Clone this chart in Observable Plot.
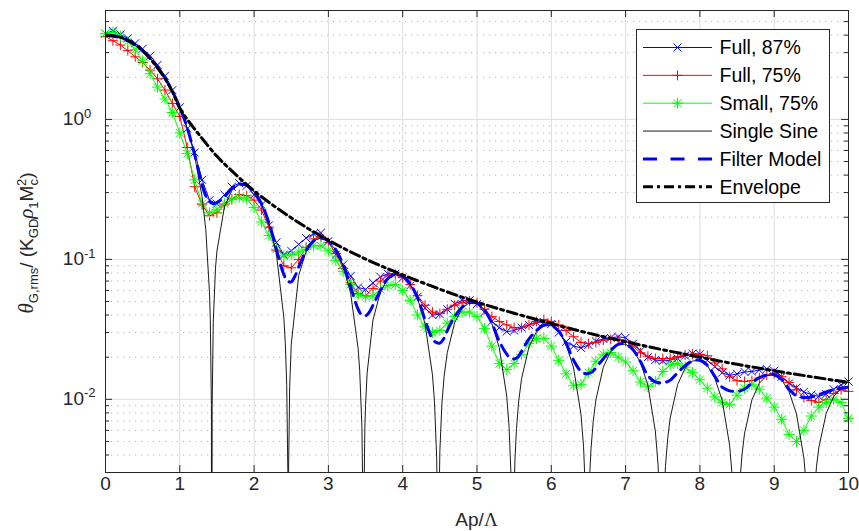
<!DOCTYPE html>
<html><head><meta charset="utf-8">
<script src="https://cdn.jsdelivr.net/npm/d3@7"></script>
<script src="https://cdn.jsdelivr.net/npm/@observablehq/plot@0.6"></script>
<style>
html,body{margin:0;padding:0;background:#fff;}
#chart{position:relative;width:859px;height:531px;}
</style></head><body><div id="chart"></div>
<script>
// ---------- data ----------
const sampleX = [0,0.1,0.2,0.3,0.4,0.5,0.6,0.7,0.8,0.9,
 1,1.1,1.2,1.3,1.4,1.5,1.6,1.7,1.8,1.9,
 2,2.1,2.2,2.3,2.4,2.5,2.6,2.7,2.8,2.9,
 3,3.1,3.2,3.3,3.4,3.5,3.6,3.7,3.8,3.9,
 4,4.1,4.2,4.3,4.4,4.5,4.6,4.7,4.8,4.9,
 5,5.1,5.2,5.3,5.4,5.5,5.6,5.7,5.8,5.9,
 6,6.1,6.2,6.3,6.4,6.5,6.6,6.7,6.8,6.9,
 7,7.1,7.2,7.3,7.4,7.5,7.6,7.7,7.8,7.9,
 8,8.1,8.2,8.3,8.4,8.5,8.6,8.7,8.8,8.9,
 9,9.1,9.2,9.3,9.4,9.5,9.6,9.7,9.8,9.9,10];

const full87 = [4.1,4.3,4.05,3.8,3.5,3.2,2.85,2.45,2.05,1.62,
 1.22,0.86,0.58,0.37,0.265,0.25,0.29,0.33,0.35,0.335,
 0.29,0.245,0.175,0.132,0.108,0.115,0.128,0.142,0.152,0.155,
 0.135,0.108,0.092,0.076,0.063,0.061,0.068,0.075,0.079,0.079,
 0.074,0.065,0.054,0.045,0.040,0.0405,0.044,0.048,0.051,0.051,
 0.048,0.042,0.036,0.0325,0.0305,0.031,0.0325,0.034,0.0355,0.0355,
 0.0345,0.030,0.0258,0.024,0.0233,0.0245,0.026,0.027,0.0275,0.028,
 0.0275,0.025,0.0222,0.020,0.0191,0.0188,0.019,0.0196,0.0205,0.0212,
 0.021,0.019,0.0171,0.0155,0.0148,0.0152,0.0157,0.0158,0.0162,0.0165,
 0.016,0.0145,0.013,0.0121,0.0113,0.0108,0.0105,0.0109,0.0118,0.0127,
 0.0134];

const full75 = [3.9,3.65,3.4,3.1,2.8,2.55,2.25,1.95,1.62,1.3,
 1.05,0.63,0.33,0.245,0.205,0.215,0.245,0.27,0.29,0.285,
 0.265,0.225,0.17,0.115,0.09,0.087,0.1,0.122,0.14,0.145,
 0.132,0.11,0.086,0.068,0.057,0.055,0.062,0.07,0.077,0.078,
 0.074,0.066,0.055,0.047,0.042,0.041,0.044,0.047,0.049,0.0505,
 0.049,0.044,0.039,0.036,0.034,0.0325,0.0325,0.034,0.036,0.037,
 0.036,0.034,0.031,0.028,0.0255,0.025,0.0255,0.0265,0.0268,0.0266,
 0.026,0.024,0.0215,0.0203,0.0196,0.0195,0.0196,0.0202,0.0207,0.021,
 0.021,0.0205,0.0182,0.0165,0.0145,0.0136,0.0134,0.0136,0.0142,0.0149,
 0.0153,0.0145,0.0132,0.0117,0.0103,0.0098,0.0095,0.0100,0.0110,0.0117,
 0.0114];

const small75 = [4.1,4.2,3.95,3.6,3.15,2.62,2.12,1.70,1.40,1.12,
 0.80,0.57,0.37,0.25,0.215,0.228,0.25,0.268,0.278,0.27,
 0.235,0.185,0.148,0.118,0.106,0.108,0.113,0.118,0.125,0.125,
 0.115,0.098,0.082,0.066,0.056,0.054,0.055,0.061,0.065,0.066,
 0.06,0.051,0.04,0.033,0.030,0.031,0.035,0.039,0.042,0.042,
 0.039,0.032,0.024,0.018,0.0163,0.018,0.021,0.025,0.0272,0.0272,
 0.024,0.019,0.0152,0.0125,0.0128,0.0155,0.0187,0.021,0.0216,0.020,
 0.0185,0.016,0.0133,0.0123,0.0134,0.0158,0.0176,0.018,0.0170,0.0155,
 0.0138,0.012,0.0104,0.0095,0.0092,0.0107,0.012,0.0127,0.0118,0.0102,
 0.0088,0.0072,0.0056,0.0050,0.0060,0.0076,0.0088,0.0095,0.0100,0.0095,
 0.0073];

const sineX = [0,0.1,0.2,0.3,0.4,0.5,0.6,0.7,0.8,0.9,1.0,1.1,1.2,1.3,1.35,1.4,
 1.4103,1.4253,1.4303,1.4353,1.4503,1.4803,1.5,1.6,1.7,1.8,1.9,2.0,2.1,2.2,2.3,2.4,
 2.42,2.439,2.454,2.459,2.464,2.479,2.5,2.6,2.7,2.8,2.9,3.0,3.1,3.2,3.3,3.4,
 3.4209,3.4509,3.4659,3.4709,3.4759,3.4909,3.5,3.5209,3.6,3.7,3.8,3.9,4.0,4.1,4.2,4.3,4.4,
 4.4274,4.4574,4.4724,4.4774,4.4824,4.5,4.5274,4.5574,4.6,4.7,4.8,4.9,5.0,5.1,5.2,5.3,5.4,
 5.4315,5.4615,5.4765,5.4815,5.4865,5.5,5.5115,5.5315,5.5615,5.6,5.7,5.8,5.9,6.0,6.1,6.2,6.3,6.4,
 6.4344,6.4644,6.4794,6.4844,6.4894,6.5,6.5144,6.5344,6.5644,6.6,6.7,6.8,6.9,7.0,7.1,7.2,7.3,7.4,
 7.4365,7.4665,7.4815,7.4865,7.4915,7.5,7.5165,7.5365,7.5665,7.6,7.7,7.8,7.9,8.0,8.1,8.2,8.3,8.4,
 8.438,8.468,8.483,8.488,8.493,8.5,8.518,8.538,8.568,8.6,8.7,8.8,8.9,9.0,9.1,9.2,9.3,9.4,
 9.4393,9.4693,9.4843,9.4893,9.4943,9.5,9.5193,9.5393,9.5693,9.6,9.7,9.8,9.9,10.0];
const sineY = [4.0,3.961,3.844,3.656,3.403,3.096,2.748,2.371,1.981,1.592,1.216,0.8658,0.5514,0.2804,0.1627,0.05756,
 0.0374,0.0092,0.000001,0.0090,0.0354,0.0866,0.1147,0.2366,0.3110,0.3426,0.3378,0.3040,0.2493,0.1819,0.1094,0.0386,
 0.0252,0.0127,0.0031,0.000001,0.0031,0.01234,0.02477,0.07652,0.1139,0.1358,0.1424,0.1351,0.1163,0.0891,0.0569,0.02314,
 0.01615,0.00638,0.00158,0.000001,0.00158,0.00626,0.009027,0.01531,0.03688,0.05838,0.07227,0.07804,0.07599,0.06705,0.05269,0.03471,0.01509,
 0.00967,0.00383,0.00095,0.000001,0.00095,0.004247,0.00927,0.0146,0.02154,0.03537,0.04475,0.04918,0.04863,0.04356,0.03476,0.02334,0.01055,
 0.00642,0.00254,0.000635,0.000001,0.000635,0.002326,0.00375,0.00619,0.00975,0.01408,0.02369,0.03041,0.03380,0.03377,0.03055,0.02463,0.01675,0.00777,
 0.00458,0.001815,0.000454,0.000001,0.000454,0.001409,0.00268,0.00442,0.00697,0.009906,0.01696,0.02200,0.02465,0.02481,0.02260,0.01837,0.01261,0.005953,
 0.00343,0.00136,0.00034,0.000001,0.00034,0.000917,0.00201,0.00332,0.00523,0.007344,0.01274,0.01665,0.01877,0.01900,0.01740,0.01422,0.009827,0.004704,
 0.002665,0.00106,0.000265,0.000001,0.000265,0.00063,0.001566,0.002583,0.00407,0.005659,0.009917,0.01304,0.01477,0.01501,0.01381,0.01133,0.007874,0.003809,
 0.00213,0.000848,0.000212,0.000001,0.000212,0.000451,0.00126,0.00209,0.0033,0.004493,0.007939,0.01048,0.01192,0.01216];

const filterX = [0,0.1,0.2,0.3,0.4,0.5,0.6,0.7,0.8,0.9,1.0,1.1,1.2,1.3,1.35,1.4,1.45,1.5,1.6,1.7,1.8,1.9,
 2.0,2.1,2.2,2.3,2.35,2.4,2.45,2.5,2.55,2.6,2.7,2.8,2.9,3.0,3.1,3.2,3.3,3.35,3.4,3.45,3.5,3.55,3.6,3.7,3.8,3.9,
 4.0,4.1,4.2,4.3,4.35,4.4,4.45,4.5,4.55,4.6,4.7,4.8,4.9,5.0,5.1,5.2,5.3,5.4,5.45,5.5,5.55,5.6,5.7,5.8,5.9,
 6.0,6.1,6.2,6.3,6.4,6.45,6.5,6.55,6.6,6.7,6.8,6.9,7.0,7.1,7.2,7.3,7.4,7.5,7.6,7.7,7.8,7.9,
 8.0,8.1,8.2,8.3,8.4,8.5,8.6,8.7,8.8,8.9,9.0,9.1,9.2,9.3,9.4,9.5,9.6,9.7,9.8,9.9,10.0];
const filterY = [4.0,3.96,3.84,3.66,3.40,3.10,2.75,2.37,1.98,1.59,1.22,0.87,0.56,0.34,0.285,0.258,0.25,0.255,0.28,0.32,0.343,0.338,
 0.304,0.25,0.182,0.118,0.094,0.078,0.070,0.069,0.076,0.088,0.115,0.135,0.142,0.135,0.117,0.091,0.064,0.052,0.044,0.040,0.0395,0.042,0.047,0.060,0.073,0.078,
 0.076,0.067,0.053,0.037,0.031,0.027,0.0255,0.0252,0.027,0.031,0.039,0.0455,0.049,0.0486,0.0436,0.035,0.026,0.021,0.0197,0.0194,0.020,0.022,0.027,0.031,0.0338,
 0.0338,0.0306,0.025,0.019,0.0158,0.0153,0.0153,0.0157,0.0168,0.0195,0.0224,0.0247,0.0248,0.0226,0.0186,0.0148,0.0133,0.0131,0.0137,0.0155,0.0174,0.0188,
 0.019,0.0175,0.0146,0.0122,0.0115,0.0114,0.0118,0.0131,0.0143,0.0149,0.015,0.0139,0.0118,0.0106,0.0103,0.0104,0.0108,0.0113,0.0117,0.012,0.0122];

const envX = [0,0.2,0.4,0.6,0.8,0.9,1.0,1.1,1.25,1.5,1.75,2.0,2.5,3.0,3.5,4.0,4.5,5.0,5.5,6.0,6.5,7.0,7.5,8.0,8.5,9.0,9.5,10.0];
const envY = [4.0,3.86,3.42,2.72,1.96,1.58,1.20,1.0,0.79,0.545,0.405,0.308,0.198,0.137,0.1005,0.0775,0.0612,0.0495,0.0412,0.0348,0.0297,0.0258,0.0226,0.0200,0.0178,0.0160,0.0145,0.0132];

const xTickValues = [0,1,2,3,4,5,6,7,8,9,10];
const yDecades = [0.01, 0.1, 1];
const yDecadeExp = ["-2", "-1", "0"];
const yMinor = [0.003,0.004,0.005,0.006,0.007,0.008,0.009,0.02,0.03,0.04,0.05,0.06,0.07,0.08,0.09,0.2,0.3,0.4,0.5,0.6,0.7,0.8,0.9,2,3,4,5];
const seriesNames = ["Full, 87%", "Full, 75%", "Small, 75%", "Single Sine", "Filter Model", "Envelope"];

// ---------- layout / styles ----------
const W = 859, H = 531, ML = 105, MR = 11, MT = 10, MB = 59;
const PW = W - ML - MR, PH = H - MT - MB;
const AX = "#262626";
const FONT = "'Liberation Sans', Arial, Helvetica, sans-serif";
const SERIF = "'Liberation Serif', 'DejaVu Serif', serif";

// MATLAB-like marker symbols
const symTimes = {draw(c, s){const r=Math.sqrt(s/Math.PI)*0.75; c.moveTo(-r,-r);c.lineTo(r,r);c.moveTo(-r,r);c.lineTo(r,-r);}};
const symPlus = {draw(c, s){const r=Math.sqrt(s/Math.PI); c.moveTo(-r,0);c.lineTo(r,0);c.moveTo(0,-r);c.lineTo(0,r);}};
const symStar = {draw(c, s){const r=Math.sqrt(s/Math.PI); const d=r*0.72; c.moveTo(-r,0);c.lineTo(r,0);c.moveTo(0,-r);c.lineTo(0,r);c.moveTo(-d,-d);c.lineTo(d,d);c.moveTo(-d,d);c.lineTo(d,-d);}};

const rows = (xs, ys) => xs.map((x, i) => ({x, y: ys[i]}));
const d87 = rows(sampleX, full87), d75 = rows(sampleX, full75), dSm = rows(sampleX, small75);
const dSine = rows(sineX, sineY), dFilt = rows(filterX, filterY), dEnv = rows(envX, envY);

const styles = [
  {stroke: "#0000ff", width: 1, symbol: symTimes, r: 5.3},
  {stroke: "#ff0000", width: 1, symbol: symPlus, r: 5},
  {stroke: "#00ff00", width: 1, symbol: symStar, r: 5.5},
  {stroke: "#000000", width: 0.9},
  {stroke: "#0000ff", width: 3, dash: "12,7", legendDash: "14,13.5"},
  {stroke: "#000000", width: 3, dash: "10,4,3,4"}
];

const chart = Plot.plot({
  width: W, height: H,
  marginLeft: ML, marginRight: MR, marginTop: MT, marginBottom: MB,
  style: {background: "#fff", fontFamily: FONT, overflow: "visible"},
  x: {domain: [0, 10], axis: null},
  y: {type: "log", domain: [0.003, 6], axis: null},
  marks: [
    // grids
    Plot.ruleY(yMinor, {y: d => d, stroke: "#b4b4b4", strokeWidth: 1, strokeDasharray: "1.2,4.8"}),
    Plot.ruleX(xTickValues, {x: d => d, stroke: "#dedede", strokeWidth: 1}),
    Plot.ruleY(yDecades, {y: d => d, stroke: "#dedede", strokeWidth: 1}),
    // measured series
    Plot.line(d87, {x: "x", y: "y", stroke: styles[0].stroke, strokeWidth: 1, clip: true}),
    Plot.dot(d87, {x: "x", y: "y", symbol: styles[0].symbol, r: styles[0].r, stroke: styles[0].stroke, fill: "none", strokeWidth: 1}),
    Plot.line(d75, {x: "x", y: "y", stroke: styles[1].stroke, strokeWidth: 1, clip: true}),
    Plot.dot(d75, {x: "x", y: "y", symbol: styles[1].symbol, r: styles[1].r, stroke: styles[1].stroke, fill: "none", strokeWidth: 1}),
    Plot.line(dSm, {x: "x", y: "y", stroke: styles[2].stroke, strokeWidth: 1, clip: true}),
    Plot.dot(dSm, {x: "x", y: "y", symbol: styles[2].symbol, r: styles[2].r, stroke: styles[2].stroke, fill: "none", strokeWidth: 1}),
    // models
    Plot.line(dSine, {x: "x", y: "y", stroke: "#000", strokeWidth: 0.9, clip: true}),
    Plot.line(dFilt, {x: "x", y: "y", stroke: "#0000ff", strokeWidth: 3, strokeDasharray: styles[4].dash, clip: true, curve: "catmull-rom"}),
    Plot.line(dEnv, {x: "x", y: "y", stroke: "#000", strokeWidth: 3, strokeDasharray: styles[5].dash, clip: true, curve: "catmull-rom"}),
    // box
    Plot.frame({stroke: AX, strokeWidth: 1}),
    // ticks (inward, on all four sides)
    Plot.ruleX(xTickValues, {x: d => d, insetTop: PH - 7, stroke: AX}),
    Plot.ruleX(xTickValues, {x: d => d, insetBottom: PH - 7, stroke: AX}),
    Plot.ruleY(yDecades, {y: d => d, insetRight: PW - 7, stroke: AX}),
    Plot.ruleY(yDecades, {y: d => d, insetLeft: PW - 7, stroke: AX}),
    Plot.ruleY(yMinor, {y: d => d, insetRight: PW - 4, stroke: AX}),
    Plot.ruleY(yMinor, {y: d => d, insetLeft: PW - 4, stroke: AX}),
    // tick labels
    Plot.text(xTickValues, {x: d => d, frameAnchor: "bottom", dy: 17, text: d => String(d), fontSize: 19, fill: AX}),
    Plot.text(yDecades, {y: d => d, frameAnchor: "left", dx: -21.5, dy: -0.5, text: () => "10", textAnchor: "end", fontSize: 19, fill: AX}),
    Plot.text(yDecades, {y: d => d, frameAnchor: "left", dx: -21.5, dy: -6, text: (d, i) => yDecadeExp[i], textAnchor: "start", fontSize: 13, fill: AX})
  ]
});
document.getElementById("chart").appendChild(chart);

// ---------- axis titles ----------
const svg = d3.select(chart);
const xl = svg.append("text").attr("x", 476.5).attr("y", 526).attr("text-anchor", "middle")
  .attr("font-family", FONT).attr("font-size", 19).attr("fill", AX);
xl.append("tspan").text("Ap/");
xl.append("tspan").attr("font-family", SERIF).text("Λ");

const yl = svg.append("text").attr("transform", "translate(33,243) rotate(-90)").attr("text-anchor", "middle")
  .attr("font-family", FONT).attr("font-size", 19).attr("fill", AX);
yl.append("tspan").attr("font-family", SERIF).attr("font-style", "italic").attr("font-size", 21).text("θ");
yl.append("tspan").attr("font-size", 13).attr("dy", 5).text("G,rms");
yl.append("tspan").attr("dy", -5).text("/ (K");
yl.append("tspan").attr("font-size", 13).attr("dy", 5).text("GD");
yl.append("tspan").attr("dy", -5).attr("font-family", SERIF).attr("font-style", "italic").attr("font-size", 21).text("ρ");
yl.append("tspan").attr("font-size", 13).attr("dy", 5).text("1");
yl.append("tspan").attr("dy", -5).text("M");
yl.append("tspan").attr("font-size", 13).attr("dy", 5).text("c");
yl.append("tspan").attr("font-size", 13).attr("dx", -7).attr("dy", -12).text("2");
yl.append("tspan").attr("dy", 7).text(")");

// ---------- legend ----------
const lg = svg.append("g").attr("text-anchor", "start");
lg.append("rect").attr("x", 636.5).attr("y", 29.5).attr("width", 193).attr("height", 173)
  .attr("fill", "#fff").attr("stroke", AX).attr("stroke-width", 1);
seriesNames.forEach((name, i) => {
  const cy = 47.5 + i * 27.85;
  const st = styles[i];
  lg.append("line").attr("x1", 643).attr("x2", 712).attr("y1", cy).attr("y2", cy)
    .attr("stroke", st.stroke).attr("stroke-width", st.width)
    .attr("stroke-dasharray", st.legendDash || st.dash || null);
  if (st.symbol) {
    const p = d3.path();
    st.symbol.draw(p, st.r * st.r * Math.PI);
    lg.append("path").attr("d", p.toString()).attr("transform", `translate(677.5,${cy})`)
      .attr("stroke", st.stroke).attr("fill", "none").attr("stroke-width", 1);
  }
  lg.append("text").attr("x", 719.5).attr("y", cy).attr("dy", "0.35em").attr("text-anchor", "start")
    .attr("font-family", FONT).attr("font-size", 19.5).attr("fill", "#000").text(name);
});
</script>
</body></html>
